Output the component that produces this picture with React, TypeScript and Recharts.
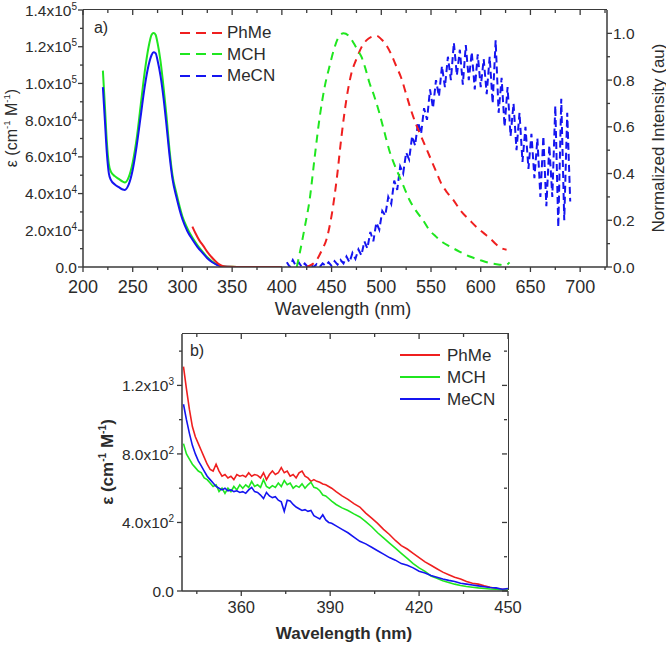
import React from 'react'
import { LineChart, Line, XAxis, YAxis, Legend } from 'recharts'

const FONT = '"Liberation Sans", Arial, Helvetica, sans-serif'
const INK = '#2b2b2b'
const AXIS = '#3a3a3a'
const RED = '#ef1f1f'
const GREEN = '#1fe61f'
const BLUE = '#1515f0'

const SOLVENTS = ['PhMe', 'MCH', 'MeCN']
const SOLVENT_COLORS = [RED, GREEN, BLUE]

// ---- panel a) absorption (left axis, M-1 cm-1)
const ABS_WL = [220, 222, 224, 226, 228, 232, 236, 240, 242, 246, 250, 254, 258, 262, 266, 269, 271, 273, 275, 278, 281, 284, 287, 290, 294, 300, 305, 310, 315, 320, 325, 330, 335, 340, 345, 350, 360, 380, 400]
const ABS_MCH = [107000, 88000, 68000, 56000, 52000, 49500, 48000, 46500, 46000, 49000, 57000, 70000, 88000, 106000, 120000, 126500, 127500, 126500, 122000, 112000, 98000, 82000, 64000, 50000, 40000, 27500, 21000, 16000, 12000, 8500, 5300, 3000, 1300, 400, 150, 80, 60, 50, 40]
const ABS_MECN = [98000, 80000, 62000, 51000, 47500, 45000, 43500, 42200, 42000, 45000, 53000, 66000, 82000, 98000, 110000, 115500, 117000, 116500, 112500, 104000, 92000, 77000, 61000, 48000, 38000, 26000, 19500, 15000, 11000, 7800, 4800, 2600, 1100, 300, 100, 60, 50, 40, 30]
const ABS_PHME_WL = [310, 313, 317, 321, 325, 329, 333, 337, 341, 345, 350, 360, 380, 400]
const ABS_PHME = [22000, 18500, 14500, 11500, 8200, 5600, 3300, 1400, 400, 150, 80, 60, 50, 40]

// ---- panel a) emission (right axis, normalized)
const EM_PHME_WL = [425, 430, 435, 440, 445, 450, 455, 460, 465, 470, 475, 480, 485, 490, 495, 500, 505, 510, 515, 520, 525, 530, 535, 540, 545, 550, 555, 560, 566, 572, 580, 589, 596, 603, 610, 616, 621, 626]
const EM_PHME = [0.0, 0.01, 0.03, 0.07, 0.12, 0.22, 0.37, 0.56, 0.72, 0.83, 0.89, 0.94, 0.97, 0.985, 0.99, 0.975, 0.95, 0.91, 0.86, 0.81, 0.74, 0.67, 0.61, 0.56, 0.51, 0.46, 0.41, 0.36, 0.32, 0.29, 0.24, 0.2, 0.17, 0.145, 0.12, 0.095, 0.08, 0.074]
const EM_MCH_WL = [415, 418, 423, 428, 433, 438, 443, 448, 453, 458, 462, 467, 472, 476, 480, 484, 488, 493, 498, 503, 508, 513, 518, 523, 528, 535, 542, 548, 555, 562, 569, 579, 589, 599, 609, 619, 625, 629]
const EM_MCH = [0.0, 0.06, 0.17, 0.29, 0.47, 0.64, 0.77, 0.86, 0.94, 0.99, 1.0, 0.99, 0.96, 0.93, 0.9, 0.85, 0.79, 0.73, 0.66, 0.58, 0.5, 0.44, 0.39, 0.34, 0.29, 0.24, 0.2, 0.16, 0.13, 0.105, 0.088, 0.065, 0.045, 0.03, 0.017, 0.01, 0.008, 0.02]
// MeCN emission is noisy, sampled every 3 nm from 405 nm
const EM_MECN_START = 405
const EM_MECN_STEP = 3
const EM_MECN = [
  0.02, 0.0, 0.03, 0.005, 0.02, 0.0, 0.015, 0.0, 0.01, 0.0,
  0.012, 0.0, 0.015, 0.005, 0.02, 0.005, 0.025, 0.01, 0.03, 0.015,
  0.045, 0.02, 0.06, 0.035, 0.075, 0.05, 0.11, 0.08, 0.15, 0.11,
  0.19, 0.16, 0.24, 0.22, 0.3, 0.27, 0.37, 0.33, 0.43, 0.4,
  0.49, 0.46, 0.56, 0.52, 0.62, 0.57, 0.68, 0.63, 0.76, 0.68,
  0.8, 0.73, 0.86, 0.77, 0.9, 0.8, 0.96, 0.82, 0.93, 0.78,
  0.95, 0.8, 0.92, 0.76, 0.91, 0.77, 0.89, 0.74, 0.9, 0.7,
  0.97, 0.66, 0.81, 0.6, 0.77, 0.56, 0.7, 0.5, 0.66, 0.45,
  0.6, 0.42, 0.57, 0.38, 0.55, 0.3, 0.56, 0.26, 0.52, 0.3,
  0.69, 0.17, 0.72, 0.2, 0.66, 0.28,
]

// ---- panel b) low-energy absorption tail
const B_WL_FINE_START = 340.5 // 1 nm steps, 51 points
const B_WL_COARSE_START = 392 // 2 nm steps, 30 points
const B_PHME = [
  1310, 1180, 1060, 960, 900, 860, 820, 780, 740, 710,
  700, 740, 700, 670, 680, 660, 670, 650, 680, 670,
  675, 665, 690, 670, 680, 675, 660, 690, 650, 680,
  700, 680, 690, 720, 690, 700, 670, 680, 660, 690,
  700, 670, 660, 640, 650, 640, 635, 625, 620, 610,
  600,
  580, 555, 535, 510, 490, 455, 425, 395, 360, 330,
  295, 265, 245, 220, 195, 170, 150, 130, 110, 95,
  80, 70, 55, 45, 40, 30, 22, 15, 10, 5,
]
const B_MCH = [
  860, 800, 770, 740, 720, 700, 690, 660, 650, 630,
  610, 620, 580, 600, 570, 600, 580, 610, 590, 620,
  600, 620, 605, 640, 610, 620, 605, 650, 610, 600,
  615, 605, 630, 610, 645, 620, 630, 600, 615, 605,
  625, 600, 620, 635, 605, 600, 585, 560, 555, 540,
  525,
  505, 485, 470, 450, 432, 405, 375, 340, 310, 280,
  250, 220, 190, 160, 135, 115, 88, 75, 60, 50,
  40, 32, 26, 22, 18, 15, 12, 10, 7, 5,
]
const B_MECN = [
  1090, 1000, 920, 850, 800, 760, 730, 700, 670, 650,
  630, 610, 600, 590, 600, 585, 590, 580, 585, 575,
  580, 570, 590, 605, 580, 575, 560, 540, 575, 555,
  545, 550, 530, 520, 465, 530, 525, 505, 490, 480,
  470, 475, 465, 470, 440, 430, 420, 445, 415, 400,
  395,
  380, 360, 340, 315, 290, 275, 255, 235, 215, 195,
  180, 160, 150, 135, 115, 105, 90, 80, 70, 62,
  55, 45, 40, 35, 30, 25, 20, 18, 10, 15,
]

// axis domains and ticks
const TOP_X_DOMAIN: [number, number] = [200, 727]
const TOP_EPS_DOMAIN: [number, number] = [0, 140000]
const TOP_INT_DOMAIN: [number, number] = [0, 1.1]
const BOT_X_DOMAIN: [number, number] = [340, 450]
const BOT_EPS_DOMAIN: [number, number] = [0, 1500]
const TOP_X_TICKS = [200, 225, 250, 275, 300, 325, 350, 375, 400, 425, 450, 475, 500, 525, 550, 575, 600, 625, 650, 675, 700, 725]
const TOP_EPS_TICKS = [0, 10000, 20000, 30000, 40000, 50000, 60000, 70000, 80000, 90000, 100000, 110000, 120000, 130000, 140000]
const TOP_INT_TICKS = [0, 0.1, 0.2, 0.3, 0.4, 0.5, 0.6, 0.7, 0.8, 0.9, 1.0]
const BOT_X_TICKS = [345, 360, 375, 390, 405, 420, 435, 450]
const BOT_EPS_TICKS = [0, 200, 400, 600, 800, 1000, 1200, 1400]

// plot boxes (page px) – chart margins are derived from these
const W = 666
const TOP_H = 320
const BOT_Y0 = 320
const BOT_H = 325
const TOP_BOX = { left: 83, top: 10, right: 607, bottom: 267 }
const BOT_BOX = { left: 182, top: 334, right: 508, bottom: 591 }

const pts = (xs: number[], ys: number[]) => xs.map((x, i) => ({ x, y: ys[i] }))
const grid = (start: number, step: number, n: number) =>
  Array.from({ length: n }, (_, i) => +(start + i * step).toFixed(2))

const EM_MECN_WL = grid(EM_MECN_START, EM_MECN_STEP, EM_MECN.length)
const B_WL = [...grid(B_WL_FINE_START, 1, 51), ...grid(B_WL_COARSE_START, 2, 30)]

const topXMajor = (v: number) => v % 50 === 0
const topEpsMajor = (v: number) => v % 20000 === 0
const topIntMajor = (v: number) => Math.round(v * 10) % 2 === 0
const botXMajor = (v: number) => v % 30 === 0
const botEpsMajor = (v: number) => v % 400 === 0

const sci = (v: number) => {
  if (v === 0) return '0.0'
  const e = Math.floor(Math.log10(v) + 1e-9)
  return (
    <>
      <tspan>{(v / 10 ** e).toFixed(1)}x10</tspan>
      <tspan dy={-6} fontSize={10}>{e}</tspan>
    </>
  )
}

type Side = 'bottom' | 'left' | 'right'
type TickCfg = {
  side: Side
  isMajor: (v: number) => boolean
  label: (v: number) => React.ReactNode
  size: number
  gap: number
}

// outward tick line + label; Recharts gives x/y on the axis line since tickSize/tickMargin are 0
const makeTick = (cfg: TickCfg) => (props: any) => {
  const { x, y, payload } = props
  const v = payload.value as number
  const major = cfg.isMajor(v)
  const len = major ? 5 : 3
  if (cfg.side === 'bottom') {
    return (
      <g>
        <line x1={x} y1={y} x2={x} y2={y + len} stroke={AXIS} strokeWidth={1.3} />
        {major && (
          <text x={x} y={y + cfg.gap} textAnchor="middle" fontSize={cfg.size} fill={INK} fontFamily={FONT}>
            {cfg.label(v)}
          </text>
        )}
      </g>
    )
  }
  const right = cfg.side === 'right'
  return (
    <g>
      <line x1={x} y1={y} x2={right ? x + len : x - len} y2={y} stroke={AXIS} strokeWidth={1.3} />
      {major && (
        <text x={right ? x + cfg.gap : x - cfg.gap} y={y + cfg.size * 0.36} textAnchor={right ? 'start' : 'end'} fontSize={cfg.size} fill={INK} fontFamily={FONT}>
          {cfg.label(v)}
        </text>
      )}
    </g>
  )
}

const axisLine = { stroke: AXIS, strokeWidth: 1.5 }
const bare = { tickLine: false, tickSize: 0, tickMargin: 0, interval: 0 as const, axisLine }
const plain = { dot: false, activeDot: false, isAnimationActive: false, dataKey: 'y' }

function LegendBox({ dashed, lineW, gap, rowH }: { dashed: boolean; lineW: number; gap: number; rowH: number }) {
  return (
    <div style={{ fontFamily: FONT, color: INK, fontSize: 17 }}>
      {SOLVENTS.map((name, i) => (
        <div key={name} style={{ display: 'flex', alignItems: 'center', height: rowH }}>
          <svg width={lineW} height={4} style={{ display: 'block' }}>
            <line x1={0} y1={2} x2={lineW} y2={2} stroke={SOLVENT_COLORS[i]} strokeWidth={2} strokeDasharray={dashed ? '10 6' : undefined} />
          </svg>
          <span style={{ marginLeft: gap, lineHeight: 1 }}>{name}</span>
        </div>
      ))}
    </div>
  )
}

const sup = (s: string) => <sup style={{ fontSize: '0.6em' }}>{s}</sup>

function Title({ cx, cy, size, bold, rotate, children }: { cx: number; cy: number; size: number; bold?: boolean; rotate?: boolean; children: React.ReactNode }) {
  return (
    <div
      style={{
        position: 'absolute',
        left: cx,
        top: cy,
        transform: `translate(-50%, -50%)${rotate ? ' rotate(-90deg)' : ''}`,
        whiteSpace: 'nowrap',
        fontFamily: FONT,
        fontSize: size,
        fontWeight: bold ? 'bold' : 'normal',
        color: INK,
        lineHeight: 1,
        zIndex: 5,
      }}
    >
      {children}
    </div>
  )
}

type Box = { left: number; top: number; right: number; bottom: number }

// closing top / right frame with inward ticks (Origin-style box)
function Frame({ box, right, xDomain, xTicks, xMajor, yDomain, yTicks, yMajor }: {
  box: Box; right: boolean; xDomain: [number, number]; xTicks: number[]; xMajor: (v: number) => boolean
  yDomain?: [number, number]; yTicks?: number[]; yMajor?: (v: number) => boolean
}) {
  const w = box.right - box.left
  const h = box.bottom - box.top
  const fx = (v: number) => ((v - xDomain[0]) / (xDomain[1] - xDomain[0])) * w
  const fy = (v: number) => (yDomain ? h - ((v - yDomain[0]) / (yDomain[1] - yDomain[0])) * h : 0)
  return (
    <div
      style={{
        position: 'absolute',
        left: box.left,
        top: box.top - 0.75,
        width: w + (right ? 0.75 : 0),
        height: h,
        borderTop: `1.5px solid ${AXIS}`,
        borderRight: right ? `1.5px solid ${AXIS}` : 'none',
        boxSizing: 'border-box',
        zIndex: 10,
        pointerEvents: 'none',
      }}
    >
      <svg width={w} height={h} style={{ position: 'absolute', left: 0, top: 0, overflow: 'visible' }}>
        {xTicks.map(v => (
          <line key={'x' + v} x1={fx(v)} y1={0} x2={fx(v)} y2={xMajor(v) ? 5 : 3} stroke={AXIS} strokeWidth={1.3} />
        ))}
        {right && yTicks && yMajor &&
          yTicks.map(v => (
            <line key={'y' + v} x1={w - 1} y1={fy(v)} x2={w - 1 - (yMajor(v) ? 5 : 3)} y2={fy(v)} stroke={AXIS} strokeWidth={1.3} />
          ))}
      </svg>
    </div>
  )
}

function TopPanel() {
  return (
    <LineChart width={W} height={TOP_H} margin={{ top: TOP_BOX.top, right: 0, bottom: 0, left: 0 }}>
      <XAxis type="number" dataKey="x" domain={TOP_X_DOMAIN} allowDataOverflow ticks={TOP_X_TICKS} height={TOP_H - TOP_BOX.bottom} {...bare}
        tick={makeTick({ side: 'bottom', isMajor: topXMajor, label: v => String(v), size: 18, gap: 26 })} />
      <YAxis yAxisId="eps" type="number" domain={TOP_EPS_DOMAIN} allowDataOverflow ticks={TOP_EPS_TICKS} width={TOP_BOX.left} {...bare}
        tick={makeTick({ side: 'left', isMajor: topEpsMajor, label: sci, size: 15.5, gap: 6 })} />
      <YAxis yAxisId="int" orientation="right" type="number" domain={TOP_INT_DOMAIN} allowDataOverflow ticks={TOP_INT_TICKS} width={W - TOP_BOX.right} {...bare}
        tick={makeTick({ side: 'right', isMajor: topIntMajor, label: v => v.toFixed(1), size: 15.5, gap: 6 })} />

      <Line yAxisId="eps" data={pts(ABS_WL, ABS_MCH)} type="monotone" stroke={GREEN} strokeWidth={2} legendType="none" {...plain} />
      <Line yAxisId="eps" data={pts(ABS_WL, ABS_MECN)} type="monotone" stroke={BLUE} strokeWidth={2} legendType="none" {...plain} />
      <Line yAxisId="eps" data={pts(ABS_PHME_WL, ABS_PHME)} type="monotone" stroke={RED} strokeWidth={2} legendType="none" {...plain} />

      <Line yAxisId="int" data={pts(EM_MECN_WL, EM_MECN)} name="MeCN" type="linear" stroke={BLUE} strokeWidth={2} strokeDasharray="7 4" {...plain} />
      <Line yAxisId="int" data={pts(EM_PHME_WL, EM_PHME)} name="PhMe" type="monotone" stroke={RED} strokeWidth={2} strokeDasharray="8 6" {...plain} />
      <Line yAxisId="int" data={pts(EM_MCH_WL, EM_MCH)} name="MCH" type="monotone" stroke={GREEN} strokeWidth={2} strokeDasharray="8 6" {...plain} />

      <Legend layout="vertical" align="center" verticalAlign="middle"
        wrapperStyle={{ position: 'absolute', left: 180, top: 22, width: 120, height: 66 }}
        content={() => <LegendBox dashed lineW={42} gap={5} rowH={21.5} />} />
    </LineChart>
  )
}

function BottomPanel() {
  return (
    <LineChart width={W} height={BOT_H} margin={{ top: BOT_BOX.top - BOT_Y0, right: W - BOT_BOX.right, bottom: 0, left: 0 }}>
      <XAxis type="number" dataKey="x" domain={BOT_X_DOMAIN} allowDataOverflow ticks={BOT_X_TICKS} height={BOT_Y0 + BOT_H - BOT_BOX.bottom} {...bare}
        tick={makeTick({ side: 'bottom', isMajor: botXMajor, label: v => String(v), size: 16.5, gap: 22 })} />
      <YAxis type="number" domain={BOT_EPS_DOMAIN} allowDataOverflow ticks={BOT_EPS_TICKS} width={BOT_BOX.left} {...bare}
        tick={makeTick({ side: 'left', isMajor: botEpsMajor, label: sci, size: 15.5, gap: 8 })} />

      <Line data={pts(B_WL, B_PHME)} name="PhMe" type="linear" stroke={RED} strokeWidth={1.6} {...plain} />
      <Line data={pts(B_WL, B_MCH)} name="MCH" type="linear" stroke={GREEN} strokeWidth={1.6} {...plain} />
      <Line data={pts(B_WL, B_MECN)} name="MeCN" type="linear" stroke={BLUE} strokeWidth={1.6} {...plain} />

      <Legend layout="vertical" align="center" verticalAlign="middle"
        wrapperStyle={{ position: 'absolute', left: 400, top: 24, width: 110, height: 66 }}
        content={() => <LegendBox dashed={false} lineW={40} gap={7} rowH={22} />} />
    </LineChart>
  )
}

export default function App() {
  return (
    <div style={{ position: 'absolute', left: 0, top: 0, width: W, height: 645, background: '#fff' }}>
      <div style={{ position: 'absolute', left: 0, top: 0, zIndex: 1 }}>
        <TopPanel />
      </div>
      <div style={{ position: 'absolute', left: 0, top: BOT_Y0, zIndex: 1 }}>
        <BottomPanel />
      </div>

      <Frame box={TOP_BOX} right={false} xDomain={TOP_X_DOMAIN} xTicks={TOP_X_TICKS} xMajor={topXMajor} />
      <Frame box={BOT_BOX} right xDomain={BOT_X_DOMAIN} xTicks={BOT_X_TICKS} xMajor={botXMajor}
        yDomain={BOT_EPS_DOMAIN} yTicks={BOT_EPS_TICKS} yMajor={botEpsMajor} />

      <Title cx={101} cy={28} size={16}>a)</Title>
      <Title cx={11} cy={128} size={16} rotate>ε (cm{sup('-1')} M{sup('-1')})</Title>
      <Title cx={658} cy={138} size={17} rotate>Normalized Intensity (au)</Title>
      <Title cx={343} cy={309} size={18}>Wavelength (nm)</Title>

      <Title cx={197} cy={351} size={16}>b)</Title>
      <Title cx={107} cy={462} size={17} bold rotate>ε (cm{sup('-1')} M{sup('-1')})</Title>
      <Title cx={344} cy={633} size={17} bold>Wavelength (nm)</Title>
    </div>
  )
}
